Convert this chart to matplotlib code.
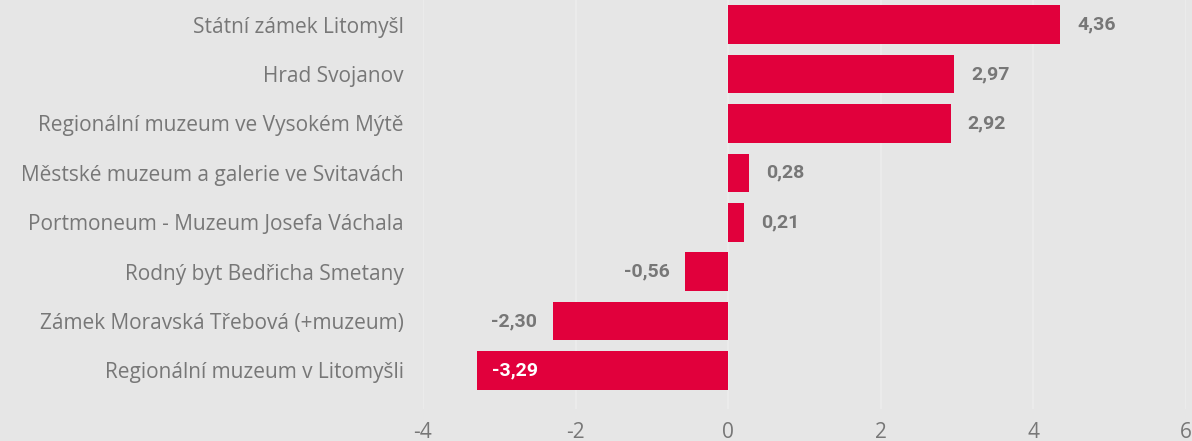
import matplotlib
matplotlib.use("Agg")
import matplotlib.pyplot as plt

# data
labels = [
    "Státní zámek Litomyšl",
    "Hrad Svojanov",
    "Regionální muzeum ve Vysokém Mýtě",
    "Městské muzeum a galerie ve Svitavách",
    "Portmoneum - Muzeum Josefa Váchala",
    "Rodný byt Bedřicha Smetany",
    "Zámek Moravská Třebová (+muzeum)",
    "Regionální muzeum v Litomyšli",
]
values = [4.36, 2.97, 2.92, 0.28, 0.21, -0.56, -2.30, -3.29]
xticks = [-4, -2, 0, 2, 4, 6]

bg = "#e6e6e6"
red = "#e1003c"
grey = "#777777"

fig = plt.figure(figsize=(11.92, 4.41), dpi=100, facecolor=bg)
ax = fig.add_axes([423 / 1192, 1 - 409 / 441, (1185.5 - 423) / 1192, 409 / 441])
ax.set_facecolor(bg)

ypos = list(range(len(labels)))
ax.barh(ypos, values, height=0.78, color=red, zorder=2)

ax.set_xlim(-4, 6)
ax.set_ylim(7.78, -0.5)
ax.set_xticks(xticks)
ax.set_xticklabels([str(t) for t in xticks], fontsize=15, color=grey, family="Open Sans")
ax.set_yticks(ypos)
ax.set_yticklabels(labels, fontsize=15, color=grey, family="Open Sans")
ax.tick_params(axis="both", length=0)
ax.tick_params(axis="y", pad=14)
ax.tick_params(axis="x", pad=9)
ax.grid(axis="x", color="#ededed", linewidth=1.2, zorder=0)
ax.grid(axis="y", visible=False)
for s in ax.spines.values():
    s.set_visible(False)

for y, v in zip(ypos, values):
    txt = f"{v:.2f}".replace(".", ",")
    if v < -3:
        # label sits inside the longest negative bar
        ax.text(v + 0.2, y, txt, ha="left", va="center", color="white",
                fontsize=14, fontweight=600, family="Roboto", zorder=3)
    elif v < 0:
        ax.text(v - 0.2, y, txt, ha="right", va="center", color=grey,
                fontsize=14, fontweight=600, family="Roboto", zorder=3)
    else:
        ax.text(v + 0.22, y, txt, ha="left", va="center", color=grey,
                fontsize=14, fontweight=600, family="Roboto", zorder=3)

fig.savefig("out.png", dpi=100, facecolor=bg)
